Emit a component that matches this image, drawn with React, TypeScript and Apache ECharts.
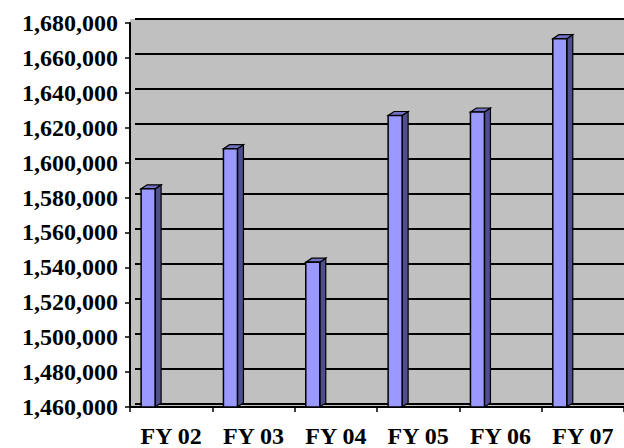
import React, { useEffect, useRef } from "react";
import * as echarts from "echarts";

const categories = ["FY 02", "FY 03", "FY 04", "FY 05", "FY 06", "FY 07"];
const values = [1585000, 1608000, 1543000, 1627000, 1629000, 1671000];
const yMin = 1460000;
const yMax = 1680000;
const yStep = 20000;

const FONT = "Liberation Serif";

function renderItem(params: any, api: any) {
  const idx = api.value(0);
  const v = api.value(1);
  const base = api.coord([idx, yMin]);
  const top = api.coord([idx, v]);
  const band = api.size([1, 0])[0];
  const x0 = base[0] - band / 2 + band * 0.135;
  const w = band * 0.17;
  const x1 = x0 + w;
  const dx = 6;
  const dy = 4;
  return {
    type: "group",
    children: [
      {
        type: "polygon",
        shape: { points: [[x1, top[1]], [x1 + dx, top[1] - dy], [x1 + dx, base[1] - dy], [x1, base[1]]] },
        style: { fill: "#4F4F90", stroke: "#000", lineWidth: 1.2 },
      },
      {
        type: "polygon",
        shape: { points: [[x0, top[1]], [x0 + dx, top[1] - dy], [x1 + dx, top[1] - dy], [x1, top[1]]] },
        style: { fill: "#7272C4", stroke: "#000", lineWidth: 1.2 },
      },
      {
        type: "rect",
        shape: { x: x0, y: top[1], width: w, height: base[1] - top[1] },
        style: { fill: "#9999FF", stroke: "#000", lineWidth: 1.5 },
      },
    ],
  };
}

export default function App() {
  const ref = useRef<HTMLDivElement>(null);
  useEffect(() => {
    const chart = echarts.init(ref.current!, null, { renderer: "svg" });
    chart.setOption({
      animation: false,
      backgroundColor: "#ffffff",
      grid: [
        { left: 130, top: 19, width: 500, height: 389, show: true, backgroundColor: "#C0C0C0", borderWidth: 0 },
        { left: 135, top: 19, width: 498, height: 385, show: false },
        { left: 130, top: 23, width: 498, height: 385, show: false },
      ],
      xAxis: [
        { gridIndex: 0, type: "category", data: categories, show: false },
        { gridIndex: 1, type: "category", data: categories, show: false },
        {
          gridIndex: 2,
          type: "category",
          data: categories,
          boundaryGap: true,
          axisLine: { show: true, lineStyle: { color: "#000", width: 2 } },
          axisTick: { show: true, length: 5, interval: 0, alignWithLabel: false, lineStyle: { color: "#000", width: 1.5 } },
          axisLabel: {
            interval: 0,
            margin: 17,
            color: "#000",
            fontFamily: FONT,
            fontWeight: "bold",
            fontSize: 24,
          },
          splitLine: { show: false },
        },
      ],
      yAxis: [
        { gridIndex: 0, type: "value", min: yMin, max: yMax, interval: yStep, show: false },
        {
          gridIndex: 1,
          type: "value",
          min: yMin,
          max: yMax,
          interval: yStep,
          axisLine: { show: false },
          axisTick: { show: false },
          axisLabel: { show: false },
          splitLine: { show: true, lineStyle: { color: "#000", width: 2 } },
        },
        {
          gridIndex: 2,
          type: "value",
          min: yMin,
          max: yMax,
          interval: yStep,
          axisLine: { show: true, lineStyle: { color: "#000", width: 2 } },
          axisTick: { show: true, length: 5, lineStyle: { color: "#000", width: 1.5 } },
          axisLabel: {
            margin: 12,
            color: "#000",
            fontFamily: FONT,
            fontWeight: "bold",
            fontSize: 24,
            formatter: (v: number) => v.toLocaleString("en-US"),
          },
          splitLine: { show: false },
        },
      ],
      series: [
        {
          type: "custom",
          xAxisIndex: 2,
          yAxisIndex: 2,
          encode: { x: 0, y: 1 },
          data: values.map((v, i) => [i, v]),
          renderItem,
          clip: false,
        },
      ],
    });
    return () => chart.dispose();
  }, []);
  return <div ref={ref} style={{ position: "fixed", left: 0, top: 0, width: 624, height: 448 }} />;
}
